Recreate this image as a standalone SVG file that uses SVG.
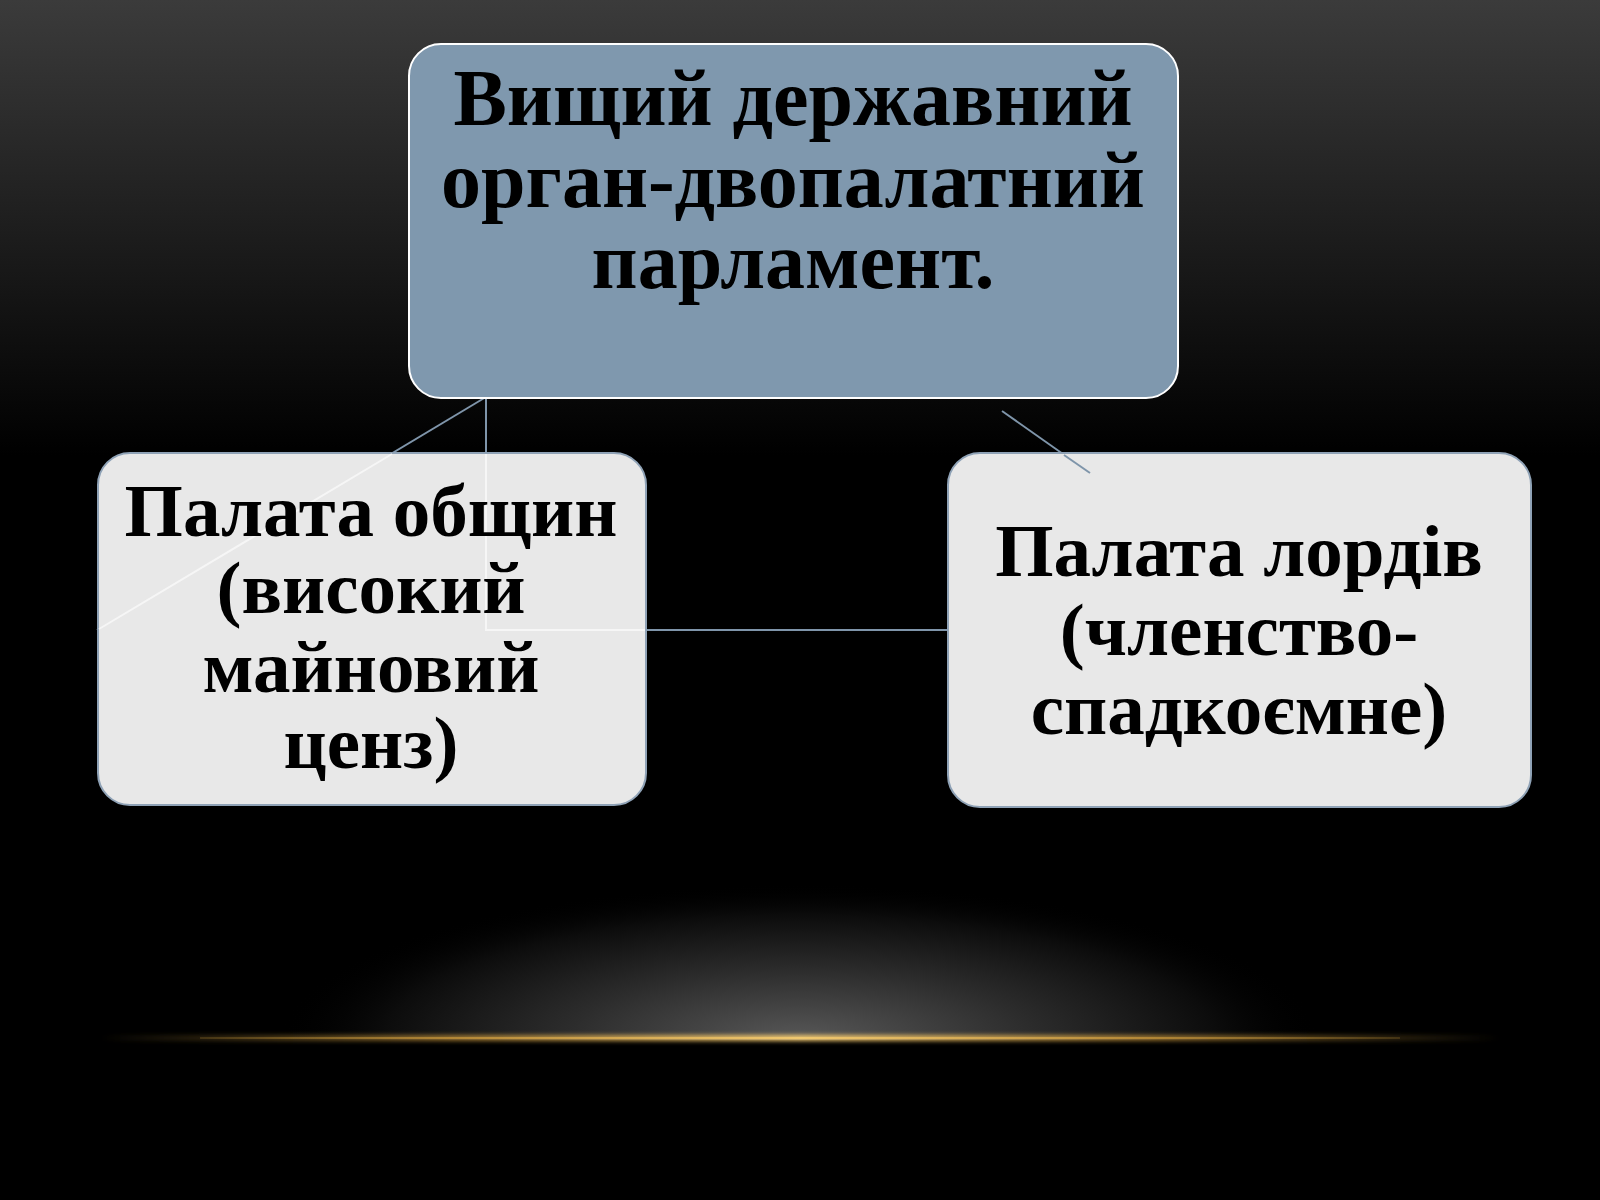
<svg xmlns="http://www.w3.org/2000/svg" width="1600" height="1200" viewBox="0 0 1600 1200">
<defs>
<linearGradient id="bg" x1="0" y1="0" x2="0" y2="1">
<stop offset="0" stop-color="#3b3b3b"/>
<stop offset="0.38" stop-color="#000000"/>
<stop offset="1" stop-color="#000000"/>
</linearGradient>
<radialGradient id="glow" cx="800" cy="1040" r="520" gradientUnits="userSpaceOnUse" gradientTransform="translate(800 1040) scale(1 0.3) translate(-800 -1040)">
<stop offset="0" stop-color="#585858"/>
<stop offset="0.45" stop-color="#2c2c2c"/>
<stop offset="0.8" stop-color="#0c0c0c"/>
<stop offset="1" stop-color="#000000" stop-opacity="0"/>
</radialGradient>
<linearGradient id="gold" x1="100" y1="0" x2="1500" y2="0" gradientUnits="userSpaceOnUse">
<stop offset="0" stop-color="#c89a40" stop-opacity="0"/>
<stop offset="0.25" stop-color="#c8963a" stop-opacity="0.7"/>
<stop offset="0.5" stop-color="#f0c870"/>
<stop offset="0.75" stop-color="#c8963a" stop-opacity="0.7"/>
<stop offset="1" stop-color="#c89a40" stop-opacity="0"/>
</linearGradient>
<filter id="blur" x="-10%" y="-300%" width="120%" height="700%"><feGaussianBlur stdDeviation="2"/></filter>
</defs>
<style>
.t{font-family:"Liberation Serif","Times New Roman",serif;font-weight:bold;fill:#000;text-anchor:middle}
.top{font-size:80px}
.sub{font-size:75px}
.conn{stroke:#7f95aa;stroke-width:2;fill:none}
.connIn{stroke:#f7f7f7;stroke-width:2;fill:none;opacity:0.9}
</style>
<rect x="0" y="0" width="1600" height="1200" fill="url(#bg)"/>
<rect x="0" y="860" width="1600" height="180" fill="url(#glow)"/>
<rect x="100" y="1035" width="1400" height="6" fill="url(#gold)" filter="url(#blur)"/>
<rect x="200" y="1037" width="1200" height="2" fill="url(#gold)"/>

<g id="connectors">
<path class="conn" d="M486 397 L486 630 L947 630"/>
<path class="conn" d="M486 397 L97 630"/>
<path class="conn" d="M1002 411 L1090 473"/>
</g>

<g id="node-top">
<rect x="409" y="44" width="769" height="354" rx="32" fill="#7f98ae" stroke="#ffffff" stroke-width="2"/>
<text class="t top" x="793" y="125">Вищий державний</text>
<text class="t top" x="793" y="207">орган-двопалатний</text>
<text class="t top" x="793" y="288">парламент.</text>
</g>

<g id="node-left">
<rect x="98" y="453" width="548" height="352" rx="32" fill="#e8e8e8" stroke="#8fa2b6" stroke-width="2"/>
<path class="connIn" d="M486 454 L486 630 L645 630"/>
<path class="connIn" d="M392 454 L99 629"/>
<text class="t sub" x="371" y="536">Палата общин</text>
<text class="t sub" x="371" y="613">(високий</text>
<text class="t sub" x="371" y="692">майновий</text>
<text class="t sub" x="371" y="768">ценз)</text>
</g>

<g id="node-right">
<rect x="948" y="453" width="583" height="354" rx="32" fill="#e8e8e8" stroke="#8fa2b6" stroke-width="2"/>
<path class="conn" d="M1064 455 L1090 473" stroke="#8a9cb0"/>
<text class="t sub" x="1239" y="576">Палата лордів</text>
<text class="t sub" x="1239" y="655">(членство-</text>
<text class="t sub" x="1239" y="734">спадкоємне)</text>
</g>
</svg>
